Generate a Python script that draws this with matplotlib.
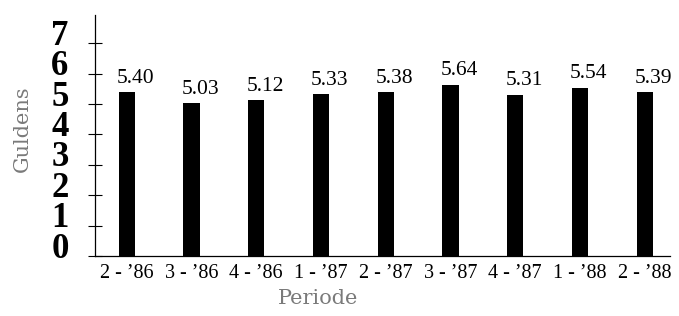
import matplotlib
matplotlib.use("Agg")
from matplotlib import pyplot as plt
from matplotlib.transforms import ScaledTranslation


# data...
periods = ["2 - \u201986", "3 - \u201986", "4 - \u201986", "1 - \u201987", "2 - \u201987",
           "3 - \u201987", "4 - \u201987", "1 - \u201988", "2 - \u201988"]
prices = [5.40, 5.03, 5.12, 5.33, 5.38, 5.64, 5.31, 5.54, 5.39]
y_ticks = [0, 1, 2, 3, 4, 5, 6, 7]

serif = ["Liberation Serif", "DejaVu Serif"]
grey = "#7a7a7a"


# --------------------------------------------------------------------------------------------------------------------

fig = plt.figure(figsize=(6.79, 3.16), dpi=100)
ax = fig.add_axes([95 / 679, 60 / 316, 575 / 679, 241 / 316])

x = list(range(len(periods)))
width = 0.25

ax.bar(x, prices, width, color="black")

# value labels, left-aligned with the bars...
for xi, v in zip(x, prices):
    ax.annotate("%0.2f" % v, (xi - width / 2 - 0.03, v), xytext=(0, 3), textcoords="offset points",
                ha="left", va="bottom", fontsize=15.5, family=serif)

ax.set_xlim(-0.49, 8.39)
ax.set_ylim(0, 7.93)

for side in ("top", "right"):
    ax.spines[side].set_visible(False)

ax.spines["left"].set_linewidth(0.9)
ax.spines["bottom"].set_linewidth(0.9)

ax.set_xticks(x)
ax.set_xticklabels(periods, fontsize=14.5, family=serif)
ax.tick_params(axis="x", length=0, pad=6)

ax.set_yticks(y_ticks)
ax.set_yticklabels([str(t) for t in y_ticks], fontsize=25, fontweight="bold", family=serif)
ax.tick_params(axis="y", direction="inout", length=10, width=0.8, pad=14)

# labels sit a little above their ticks in the original...
offset = ScaledTranslation(0, 11 / 100, fig.dpi_scale_trans)
for label in ax.get_yticklabels():
    label.set_transform(label.get_transform() + offset)

fig.text(318 / 679, 1 - 298 / 316, "Periode", ha="center", va="center", fontsize=15, color=grey,
         family=["DejaVu Serif"])
fig.text(22 / 679, 1 - 129 / 316, "Guldens", ha="center", va="center", rotation=90, fontsize=15, color=grey,
         family=["DejaVu Serif"])

fig.savefig("out.png", dpi=100)
